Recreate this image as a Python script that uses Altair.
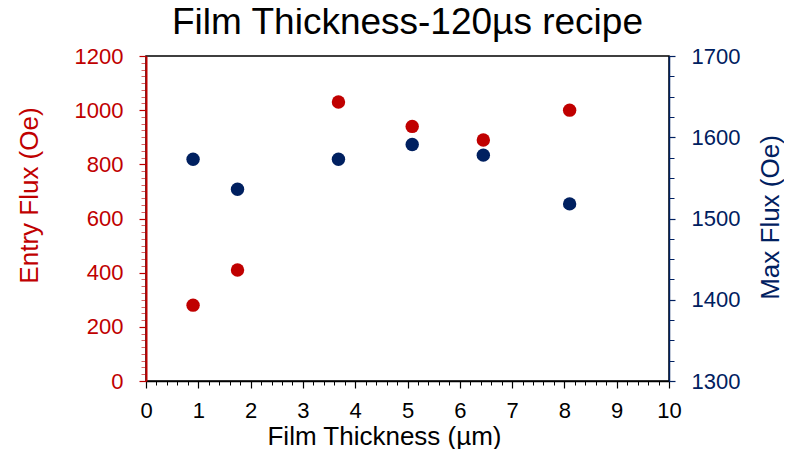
import altair as alt
import pandas as pd

# data
thickness = [0.9, 1.75, 3.68, 5.09, 6.45, 8.1]
entry_flux = [280, 410, 1030, 940, 890, 1000]
max_flux = [1573, 1536, 1573, 1591, 1578, 1518]

x_major = list(range(0, 11))
x_minor = [round(i * 0.2, 1) for i in range(51) if i % 5]
left_major = list(range(0, 1201, 200))
left_minor = [v for v in range(0, 1201, 25) if v % 200]
right_major = list(range(1300, 1701, 100))
right_minor = [v for v in range(1300, 1701, 25) if v % 100]

df = pd.DataFrame({"t": thickness, "entry": entry_flux, "max": max_flux})

RED = "#C00000"
NAVY = "#002060"
FONT = "Liberation Sans"
W, H = 523, 325

xscale = alt.Scale(domain=[0, 10], nice=False, zero=False)
lscale = alt.Scale(domain=[0, 1200], nice=False, zero=False)
rscale = alt.Scale(domain=[1300, 1700], nice=False, zero=False)

base = alt.Chart(df)

x_main = alt.X(
    "t:Q", scale=xscale,
    axis=alt.Axis(orient="bottom", values=x_major, title="Film Thickness (µm)", grid=False,
                  format="d",
                  tickSize=7, tickColor="black", tickWidth=1.2,
                  domainColor="black", domainWidth=1.5,
                  labelFontSize=22, labelFont=FONT, labelColor="black",
                  labelPadding=12, labelFlush=False, labelOverlap=False,
                  titleFont=FONT, titleFontSize=26, titleFontWeight="normal",
                  titleColor="black", titleX=238, titleY=63,
                  titleAlign="center", titleBaseline="alphabetic"))
x_minor_enc = alt.X(
    "t:Q", scale=xscale,
    axis=alt.Axis(orient="bottom", values=x_minor, title=None, labels=False, grid=False,
                  domain=False, tickSize=4, tickColor="black", tickWidth=1))

red = base.mark_circle(size=180, opacity=1, color=RED).encode(
    x=x_main,
    y=alt.Y("entry:Q", scale=lscale,
            axis=alt.Axis(orient="left", values=left_major, title="Entry Flux (Oe)",
                          format="d",
                          grid=False, tickSize=7, tickColor=RED, tickWidth=1.2,
                          domainColor=RED, domainWidth=2,
                          labelFontSize=22, labelFont=FONT, labelColor=RED,
                          labelPadding=16, labelOverlap=False,
                          titleFont=FONT, titleFontSize=26, titleFontWeight="normal",
                          titleColor=RED, titleAngle=270, titleX=-109, titleY=139,
                          titleAlign="center", titleBaseline="alphabetic")))

red_minor = base.mark_circle(opacity=0).encode(
    x=x_minor_enc,
    y=alt.Y("entry:Q", scale=lscale,
            axis=alt.Axis(orient="left", values=left_minor, title=None, labels=False,
                          grid=False, domain=False, tickSize=5, tickColor=RED,
                          tickWidth=1, tickOpacity=0.6)))

blue = base.mark_circle(size=180, opacity=1, color=NAVY).encode(
    x=alt.X("t:Q", scale=xscale, axis=None),
    y=alt.Y("max:Q", scale=rscale,
            axis=alt.Axis(orient="right", values=right_major, title="Max Flux (Oe)",
                          format="d",
                          grid=False, tickSize=6, tickColor=NAVY, tickWidth=1.2,
                          domainColor=NAVY, domainWidth=1.5,
                          labelFontSize=22, labelFont=FONT, labelColor=NAVY,
                          labelPadding=16, labelOverlap=False,
                          titleFont=FONT, titleFontSize=26, titleFontWeight="normal",
                          titleColor=NAVY, titleAngle=270, titleX=109, titleY=161,
                          titleAlign="center", titleBaseline="alphabetic")))

blue_minor = base.mark_circle(opacity=0).encode(
    x=alt.X("t:Q", scale=xscale, axis=None),
    y=alt.Y("max:Q", scale=rscale,
            axis=alt.Axis(orient="right", values=right_minor, title=None, labels=False,
                          grid=False, domain=False, tickSize=5, tickColor=NAVY,
                          tickWidth=1)))

chart = alt.layer(red_minor, red, blue_minor, blue).resolve_scale(
    x="independent", y="independent"
).resolve_axis(x="independent", y="independent").properties(
    width=W, height=H,
    autosize=alt.AutoSizeParams(type="none"),
    padding={"left": 138, "top": 48, "right": 115, "bottom": 68},
    title=alt.TitleParams("Film Thickness-120µs recipe", font=FONT, fontSize=37,
                          fontWeight="normal", color="black", anchor="middle",
                          frame="group", offset=3),
).configure_view(stroke="black", strokeWidth=1.5)

chart.save("out.html", embed_options={"renderer": "svg", "actions": False})
